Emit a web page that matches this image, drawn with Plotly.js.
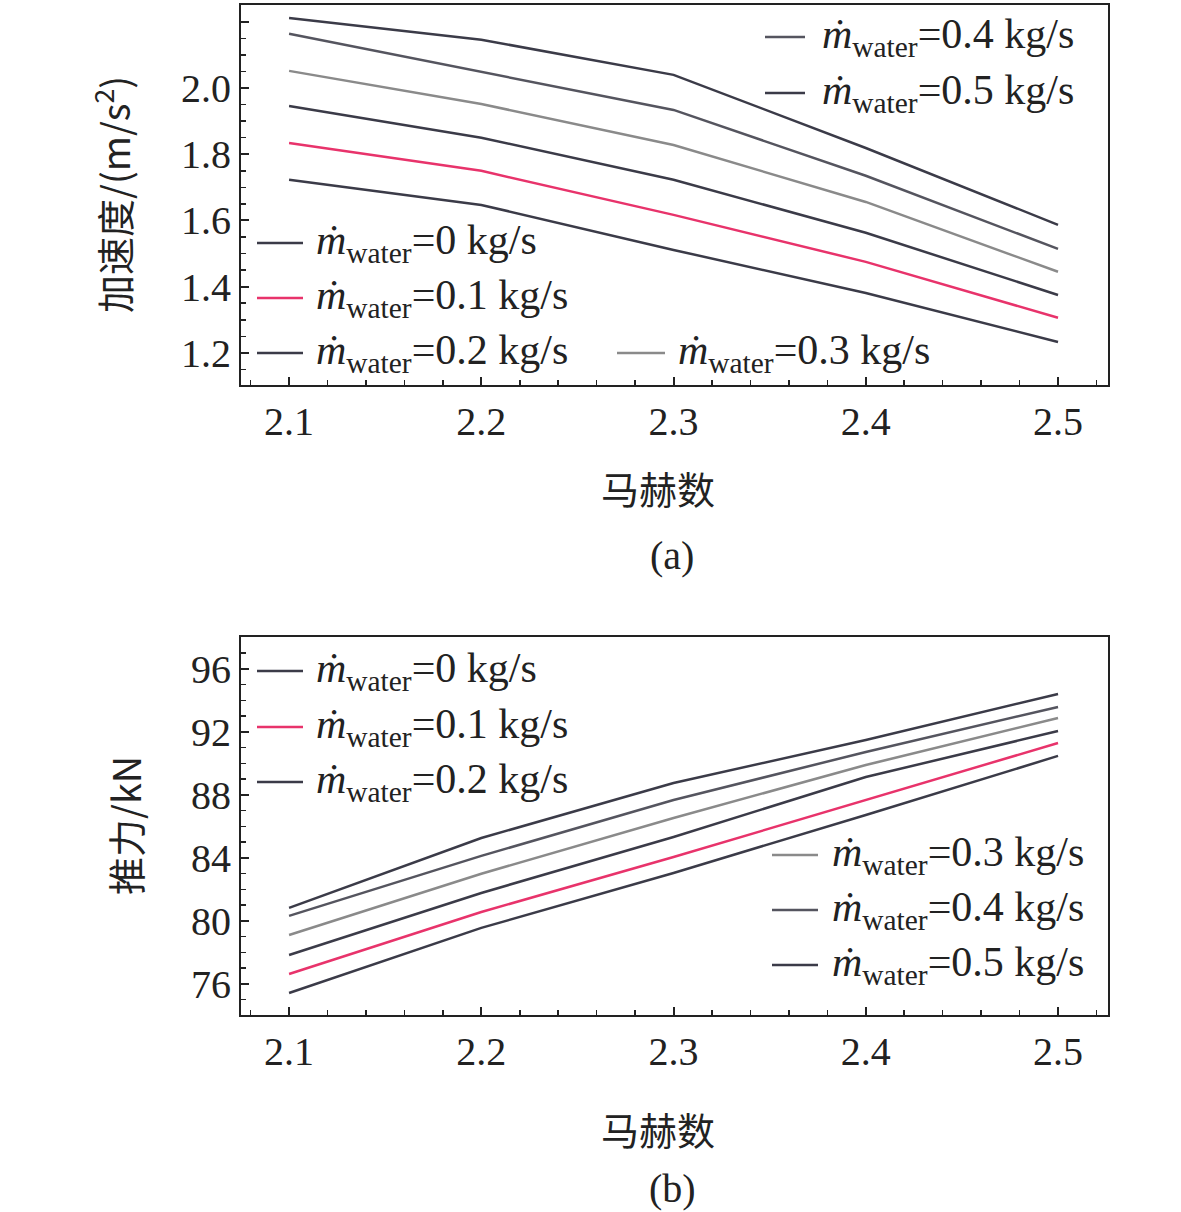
<!DOCTYPE html>
<html><head><meta charset="utf-8">
<script src="https://cdn.plot.ly/plotly-3.0.1.min.js"></script>
</head><body style="margin:0">
<div id="graph" style="width:1181px;height:1212px"></div>
<script>
var mach = [2.1, 2.2, 2.3, 2.4, 2.5];
var flows = ['0', '0.1', '0.2', '0.3', '0.4', '0.5'];
var colors = ['#3b3b48', '#e8336b', '#3b3b48', '#8a8a8a', '#55555f', '#3b3b48'];

// acceleration, m/s^2
var acc0 = [1.723, 1.647, 1.511, 1.381, 1.233];
var acc1 = [1.834, 1.750, 1.617, 1.475, 1.306];
var acc2 = [1.946, 1.850, 1.723, 1.563, 1.375];
var acc3 = [2.052, 1.952, 1.828, 1.656, 1.445];
var acc4 = [2.164, 2.049, 1.934, 1.735, 1.514];
var acc5 = [2.212, 2.146, 2.040, 1.819, 1.587];

// thrust, kN
var thr0 = [75.43, 79.56, 83.05, 86.73, 90.48];
var thr1 = [76.63, 80.57, 84.06, 87.68, 91.30];
var thr2 = [77.84, 81.78, 85.33, 89.14, 92.06];
var thr3 = [79.11, 83.00, 86.54, 89.90, 92.89];
var thr4 = [80.32, 84.13, 87.68, 90.73, 93.59];
var thr5 = [80.83, 85.27, 88.76, 91.49, 94.41];

var accs = [acc0, acc1, acc2, acc3, acc4, acc5];
var thrs = [thr0, thr1, thr2, thr3, thr4, thr5];

var data = [];
accs.forEach(function (a, i) {
  data.push({x: mach, y: a, type: 'scatter', mode: 'lines', line: {color: colors[i], width: 2.5}, xaxis: 'x', yaxis: 'y'});
});
thrs.forEach(function (a, i) {
  data.push({x: mach, y: a, type: 'scatter', mode: 'lines', line: {color: colors[i], width: 2.5}, xaxis: 'x2', yaxis: 'y2'});
});

var W = 1181, H = 1212;
var fnt = {family: 'Liberation Serif, Times New Roman, serif', size: 40, color: '#222'};
var lfnt = {family: 'Liberation Serif, Times New Roman, serif', size: 42, color: '#222'};
var cjk = {family: 'Noto Sans CJK SC, serif', size: 38, color: '#222'};

function ax(extra) {
  var o = {showgrid: false, zeroline: false, showline: true, mirror: true, linecolor: '#222', linewidth: 2,
    ticks: 'inside', ticklen: 8, tickwidth: 2, tickcolor: '#222', tickfont: fnt,
    minor: {ticks: 'inside', ticklen: 5, tickwidth: 1.5, tickcolor: '#222'}};
  for (var k in extra) o[k] = extra[k];
  return o;
}

var shapes = [], annotations = [];
function leg(i, x1, x2, y, tx) {
  shapes.push({type: 'line', xref: 'paper', yref: 'paper', x0: x1 / W, x1: x2 / W, y0: 1 - y / H, y1: 1 - y / H,
    line: {color: colors[i], width: 2.5}});
  annotations.push({xref: 'paper', yref: 'paper', x: tx / W, y: 1 - y / H, xanchor: 'left', yanchor: 'middle',
    showarrow: false, font: lfnt, text: '<i>ṁ</i><sub>water</sub>=' + flows[i] + ' kg/s'});
}
function txt(t, x, y, f, ang) {
  annotations.push({xref: 'paper', yref: 'paper', x: x / W, y: 1 - y / H, xanchor: 'center', yanchor: 'middle',
    showarrow: false, text: t, font: f, textangle: ang || 0});
}

leg(4, 765, 805, 37, 820); leg(5, 765, 805, 93, 820);
leg(0, 257, 303, 243, 314); leg(1, 257, 303, 298, 314); leg(2, 257, 303, 353, 314); leg(3, 617, 665, 353, 676);
leg(0, 257, 303, 671, 314); leg(1, 257, 303, 727, 314); leg(2, 257, 303, 782, 314);
leg(3, 772, 818, 855, 830); leg(4, 772, 818, 910, 830); leg(5, 772, 818, 965, 830);

txt('马赫数', 658, 487, cjk); txt('(a)', 672, 555, fnt);
txt('马赫数', 658, 1128, cjk); txt('(b)', 672, 1188, fnt);
txt('加速度/(m/s<sup>2</sup>)', 112, 195, cjk, -90);
txt('推力/kN', 124, 826, cjk, -90);

var layout = {
  width: W, height: H, margin: {l: 0, r: 0, t: 0, b: 0},
  paper_bgcolor: '#fff', plot_bgcolor: '#fff', showlegend: false,
  xaxis: ax({domain: [241 / W, 1108 / W], range: [2.075, 2.526], anchor: 'y', tickvals: mach, ticktext: ['2.1', '2.2', '2.3', '2.4', '2.5']}),
  yaxis: ax({domain: [1 - 385 / H, 1 - 5 / H], range: [1.103, 2.251], anchor: 'x', dtick: 0.2, tickformat: '.1f'}),
  xaxis2: ax({domain: [241 / W, 1108 / W], range: [2.075, 2.526], anchor: 'y2', tickvals: mach, ticktext: ['2.1', '2.2', '2.3', '2.4', '2.5']}),
  yaxis2: ax({domain: [1 - 1015 / H, 1 - 637 / H], range: [74.03, 98.03], anchor: 'x2', tickvals: [76, 80, 84, 88, 92, 96]}),
  shapes: shapes, annotations: annotations
};
Plotly.newPlot('graph', data, layout, {staticPlot: true});
</script>
</body></html>
